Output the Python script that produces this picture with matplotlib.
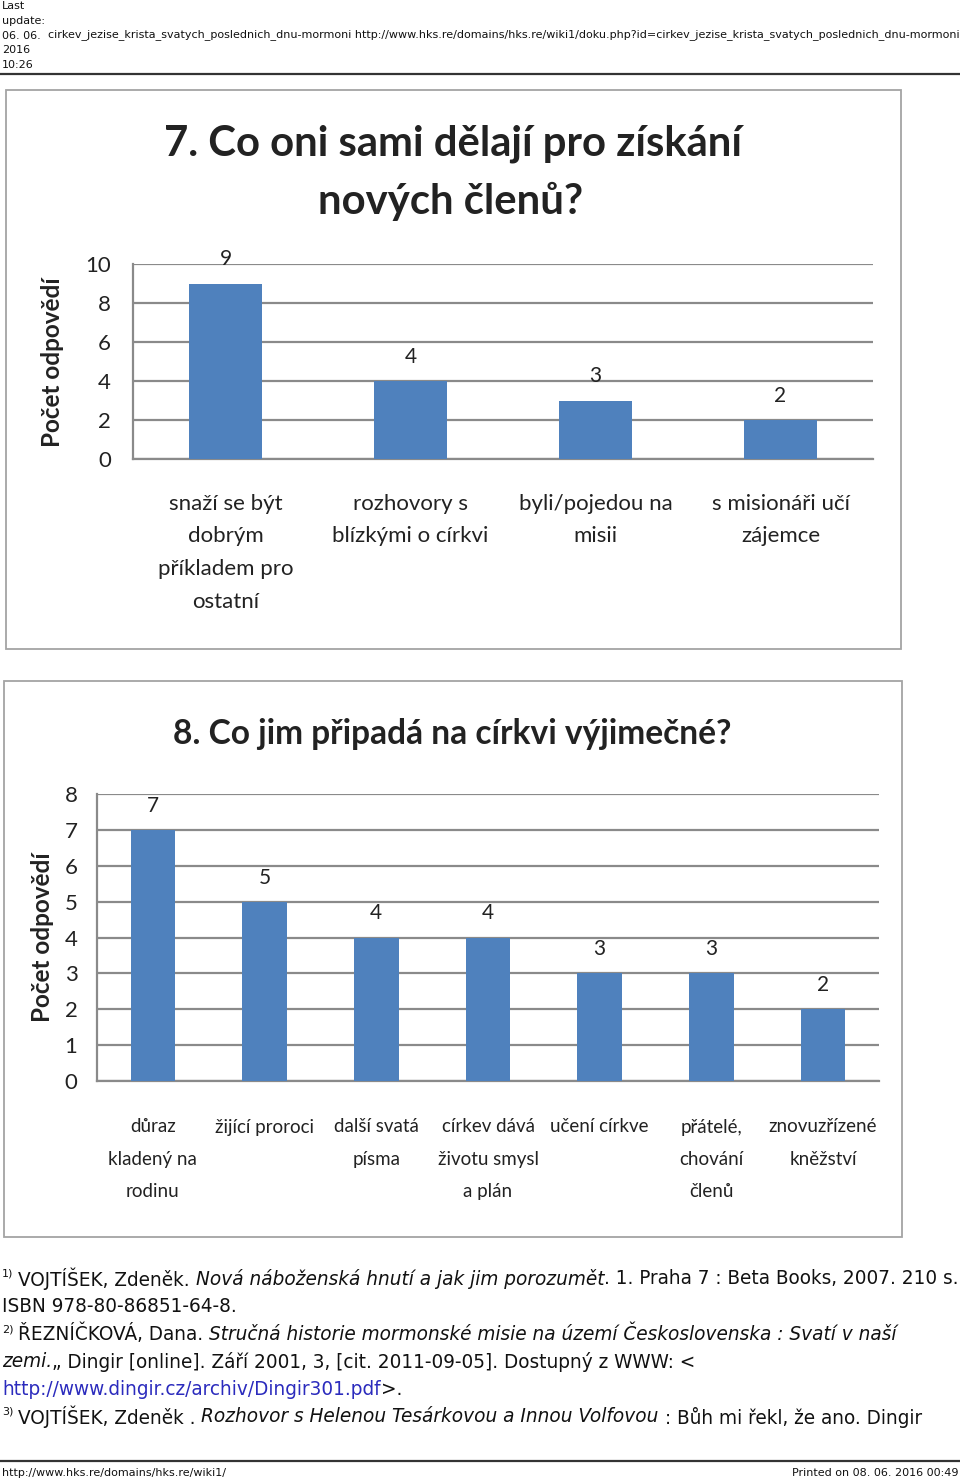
import matplotlib
matplotlib.use('Agg')
import matplotlib.pyplot as plt
from matplotlib.patches import Rectangle
from matplotlib.lines import Line2D

W, H = 960, 1483

# question 7
q7_title = ['7. Co oni sami dělají pro získání', 'nových členů?']
q7_categories = ['snaží se být\ndobrým\npříkladem pro\nostatní',
                 'rozhovory s\nblízkými o církvi',
                 'byli/pojedou na\nmisii',
                 's misionáři učí\nzájemce']
q7_values = [9, 4, 3, 2]
q7_ticks = [0, 2, 4, 6, 8, 10]

# question 8
q8_title = '8. Co jim připadá na církvi výjimečné?'
q8_categories = ['důraz\nkladený na\nrodinu', 'žijící proroci', 'další svatá\npísma',
                 'církev dává\nživotu smysl\na plán', 'učení církve',
                 'přátelé,\nchování\nčlenů', 'znovuzřízené\nkněžství']
q8_values = [7, 5, 4, 4, 3, 3, 2]
q8_ticks = [0, 1, 2, 3, 4, 5, 6, 7, 8]

y_label = 'Počet odpovědí'

header_left = ['Last', 'update:', '06. 06.', '2016', '10:26']
header_page = ('cirkev_jezise_krista_svatych_poslednich_dnu-mormoni '
               'http://www.hks.re/domains/hks.re/wiki1/doku.php?id=cirkev_jezise_krista_svatych_poslednich_dnu-mormoni')
footer_left = 'http://www.hks.re/domains/hks.re/wiki1/'
footer_right = 'Printed on 08. 06. 2016 00:49'

footnotes = [
    [('1)', 'sup'), ('VOJTÍŠEK, Zdeněk. ', 'n'), ('Nová náboženská hnutí a jak jim porozumět', 'i'),
     ('. 1. Praha 7 : Beta Books, 2007. 210 s.', 'n')],
    [('ISBN 978-80-86851-64-8.', 'n')],
    [('2)', 'sup'), ('ŘEZNÍČKOVÁ, Dana. ', 'n'),
     ('Stručná historie mormonské misie na území Československa : Svatí v naší', 'i')],
    [('zemi.', 'i'), ('„ Dingir [online]. Září 2001, 3, [cit. 2011-09-05]. Dostupný z WWW: <', 'n')],
    [('http://www.dingir.cz/archiv/Dingir301.pdf', 'link'), ('>.', 'n')],
    [('3)', 'sup'), ('VOJTÍŠEK, Zdeněk . ', 'n'),
     ('Rozhovor s Helenou Tesárkovou a Innou Volfovou', 'i'), (' : Bůh mi řekl, že ano. Dingir', 'n')],
]

BAR = '#4f81bd'
GRID = '#8a8a8a'
CHART_FONT = ['Lato', 'DejaVu Sans']
PAGE_FONT = ['DejaVu Sans']

fig = plt.figure(figsize=(W / 100, H / 100), dpi=100)
renderer = fig.canvas.get_renderer()


def fx(x):
    return x / W


def fy(y):
    return 1 - y / H


def text_w(s, **kw):
    t = fig.text(0, 0, s, **kw)
    w = t.get_window_extent(renderer).width
    t.remove()
    return w


def fit(s, target, **kw):
    return 10 * target / text_w(s, fontsize=10, **kw)


# page header / footer
hsize = fit(header_page, 910, family=PAGE_FONT)
for i, s in enumerate(header_left):
    fig.text(fx(2), fy(6 + i * 14.8), s, family=PAGE_FONT, fontsize=hsize, va='center', color='#111')
fig.text(fx(48), fy(35), header_page, family=PAGE_FONT, fontsize=hsize, va='center', color='#111')
fig.add_artist(Line2D([0, 1], [fy(74)] * 2, color='#333', lw=1.6))
fig.add_artist(Line2D([0, 1], [fy(1461)] * 2, color='#333', lw=1.6))
fig.text(fx(2), fy(1473), footer_left, family=PAGE_FONT, fontsize=hsize, va='center', color='#111')
fig.text(fx(958), fy(1473), footer_right, family=PAGE_FONT, fontsize=hsize, va='center',
         ha='right', color='#111')


def bar_chart(box, plot, cats, vals, ticks, bar_w, tick_pad, cat_pad, cat_size, cat_spacing):
    bx0, by0, bx1, by1 = box
    fig.add_artist(Rectangle((fx(bx0), fy(by1)), (bx1 - bx0) / W, (by1 - by0) / H,
                             transform=fig.transFigure, fill=False, ec='#a4a4a4', lw=1.3))
    x0, y0, x1, y1 = plot
    ax = fig.add_axes([fx(x0), fy(y1), (x1 - x0) / W, (y1 - y0) / H])
    pos = list(range(len(cats)))
    ax.bar(pos, vals, width=bar_w, color=BAR, zorder=3)
    ax.set_xlim(-0.5, len(cats) - 0.5)
    ax.set_ylim(ticks[0], ticks[-1])
    ax.set_yticks(ticks)
    ax.yaxis.grid(True, color=GRID, lw=1.6)
    ax.set_axisbelow(True)
    ax.set_xticks(pos)
    ax.set_xticklabels(cats, fontsize=cat_size, family=CHART_FONT, linespacing=cat_spacing, color='#222')
    ax.tick_params(axis='both', length=0)
    ax.tick_params(axis='x', pad=cat_pad)
    ax.tick_params(axis='y', pad=tick_pad, labelsize=16, labelfontfamily=CHART_FONT, labelcolor='#222')
    for side in ['top', 'right']:
        ax.spines[side].set_visible(False)
    for side in ['left', 'bottom']:
        ax.spines[side].set_color(GRID)
        ax.spines[side].set_linewidth(1.6)
    for i, v in zip(pos, vals):
        ax.annotate(str(v), (i, v), xytext=(0, 13), textcoords='offset points',
                    ha='center', va='baseline', fontsize=15, family=CHART_FONT, color='#222')
    return ax


# chart 7
bar_chart((6, 90, 901, 649), (133, 264, 873, 459), q7_categories, q7_values, q7_ticks,
          0.39, 16, 25, 16, 1.79)
tsize = fit(q7_title[0], 580, family=CHART_FONT, fontweight='bold')
fig.text(fx(453), fy(144), q7_title[0], family=CHART_FONT, fontweight='bold', fontsize=tsize,
         ha='center', va='center', color='#222')
fig.text(fx(451), fy(201), q7_title[1], family=CHART_FONT, fontweight='bold', fontsize=tsize,
         ha='center', va='center', color='#222')
lsize = fit(y_label, 170, family=CHART_FONT, fontweight='bold')
fig.text(fx(53), fy(362), y_label, family=CHART_FONT, fontweight='bold', fontsize=lsize,
         rotation=90, ha='center', va='center', color='#222')

# chart 8
bar_chart((4, 681, 902, 1237), (97, 794, 879, 1081), q8_categories, q8_values, q8_ticks,
          0.40, 14, 27, 13.5, 2.1)
tsize8 = fit(q8_title, 560, family=CHART_FONT, fontweight='bold')
fig.text(fx(452), fy(734), q8_title, family=CHART_FONT, fontweight='bold', fontsize=tsize8,
         ha='center', va='center', color='#222')
fig.text(fx(43), fy(937), y_label, family=CHART_FONT, fontweight='bold', fontsize=lsize,
         rotation=90, ha='center', va='center', color='#222')

# footnotes
first = ''.join(s for s, st in footnotes[0] if st != 'sup')
nsize = fit(first, 940, family=PAGE_FONT)
sp = text_w('a a', fontsize=nsize, family=PAGE_FONT) - text_w('aa', fontsize=nsize, family=PAGE_FONT)
for row, segs in enumerate(footnotes):
    y = 1279 + row * 27.6
    x = 2
    for s, style in segs:
        kw = dict(family=PAGE_FONT, fontsize=nsize, va='center', color='#111')
        yy = y
        if style == 'sup':
            kw['fontsize'] = nsize * 0.6
            yy = y - 5
        elif style == 'i':
            kw['fontstyle'] = 'italic'
        elif style == 'link':
            kw['color'] = '#2b2bbd'
        lead = len(s) - len(s.lstrip(' '))
        trail = len(s) - len(s.rstrip(' '))
        x += lead * sp
        t = fig.text(fx(x), fy(yy), s.strip(' '), **kw)
        x = t.get_window_extent(renderer).x1 + trail * sp
        if style == 'sup':
            x = 18

fig.savefig('out.png', dpi=100)
